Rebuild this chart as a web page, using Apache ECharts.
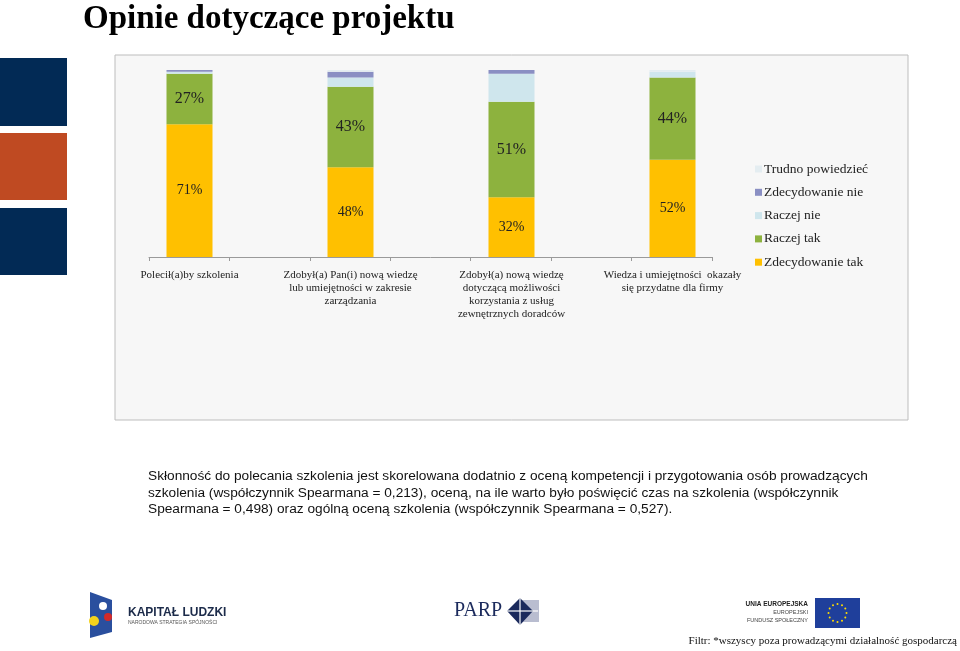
<!DOCTYPE html>
<html>
<head>
<meta charset="utf-8">
<script src="https://cdn.jsdelivr.net/npm/echarts@6/dist/echarts.min.js"></script>
<style>
html,body{margin:0;padding:0;background:#fff;}
#c{width:960px;height:651px;}
</style>
</head>
<body>
<div id="c"></div>
<script>
const categories = [
  'Polecił(a)by szkolenia',
  'Zdobył(a) Pan(i) nową wiedzę\nlub umiejętności w zakresie\nzarządzania',
  'Zdobył(a) nową wiedzę\ndotyczącą możliwości\nkorzystania z usług\nzewnętrznych doradców',
  'Wiedza i umiejętności  okazały\nsię przydatne dla firmy'
];
const zdecydowanieTak = [71, 48, 32, 52];
const raczejTak = [27, 43, 51, 44];
const raczejNie = [1, 5, 15, 3];
const zdecydowanieNie = [1, 3, 2, 0];
const trudnoPowiedziec = [0, 1, 0, 1];
const seriesNames = ['Zdecydowanie tak', 'Raczej tak', 'Raczej nie', 'Zdecydowanie nie', 'Trudno powiedzieć'];
const seriesColors = ['#ffc000', '#8db23e', '#cfe6ed', '#8a8fc3', '#e4edf1'];
const seriesValues = [zdecydowanieTak, raczejTak, raczejNie, zdecydowanieNie, trudnoPowiedziec];

const titleText = 'Opinie dotyczące projektu';
const bodyText = 'Skłonność do polecania szkolenia jest skorelowana dodatnio z oceną kompetencji i przygotowania osób prowadzących\nszkolenia (współczynnik Spearmana = 0,213), oceną, na ile warto było poświęcić czas na szkolenia (współczynnik\nSpearmana = 0,498) oraz ogólną oceną szkolenia (współczynnik Spearmana = 0,527).';
const filterText = 'Filtr: *wszyscy poza prowadzącymi działalność gospodarczą';

const chart = echarts.init(document.getElementById('c'), null, {renderer: 'canvas'});

const serif = '"Liberation Serif", "Times New Roman", serif';
const sans = '"Liberation Sans", Arial, sans-serif';

const series = seriesValues.map((vals, i) => ({
  name: seriesNames[i],
  type: 'bar',
  stack: 'all',
  xAxisIndex: 0,
  yAxisIndex: 0,
  barWidth: 46,
  itemStyle: {color: seriesColors[i]},
  data: vals,
  label: {
    show: i < 2,
    position: 'inside',
    formatter: '{c}%',
    fontFamily: serif,
    fontSize: i === 0 ? 14 : 16,
    color: '#222'
  }
}));

function starsCircle(cx, cy, r, n) {
  const arr = [];
  for (let k = 0; k < n; k++) {
    const a = k * 2 * Math.PI / n;
    arr.push({type: 'circle', shape: {cx: cx + r * Math.sin(a), cy: cy - r * Math.cos(a), r: 1}, style: {fill: '#ffdd00'}});
  }
  return arr;
}

const graphics = [
  {type: 'rect', shape: {x: 115, y: 55, width: 793, height: 365}, style: {fill: '#f7f7f7', stroke: '#bdbdbd', lineWidth: 1}, z: -10},
  {type: 'rect', shape: {x: 0, y: 58, width: 67, height: 68}, style: {fill: '#022a55'}},
  {type: 'rect', shape: {x: 0, y: 133, width: 67, height: 67}, style: {fill: '#bf4a22'}},
  {type: 'rect', shape: {x: 0, y: 208, width: 67, height: 67}, style: {fill: '#022a55'}},
  {type: 'text', x: 83, y: 19, style: {text: titleText, font: 'bold 33px ' + serif, fill: '#000', textVerticalAlign: 'middle'}},
  {type: 'text', x: 148, y: 468, style: {text: bodyText, font: '13.7px ' + sans, fill: '#111', lineHeight: 16.5}},
  {type: 'text', x: 957, y: 641, style: {text: filterText, font: '11px ' + serif, fill: '#111', textAlign: 'right', textVerticalAlign: 'middle'}},
  {type: 'polygon', shape: {points: [[90, 592], [112, 600], [112, 632], [90, 638]]}, style: {fill: '#2a4f9e'}},
  {type: 'circle', shape: {cx: 103, cy: 606, r: 4}, style: {fill: '#ffffff'}},
  {type: 'circle', shape: {cx: 108, cy: 617, r: 4}, style: {fill: '#d42a2a'}},
  {type: 'circle', shape: {cx: 94, cy: 621, r: 5}, style: {fill: '#f3d21c'}},
  {type: 'text', x: 128, y: 613, style: {text: 'KAPITAŁ LUDZKI', font: 'bold 12px ' + sans, fill: '#1c2b4a', textVerticalAlign: 'middle'}},
  {type: 'text', x: 128, y: 623, style: {text: 'NARODOWA STRATEGIA SPÓJNOŚCI', font: '5px ' + sans, fill: '#555', textVerticalAlign: 'middle'}},
  {type: 'text', x: 454, y: 611, style: {text: 'PARP', font: '20px ' + serif, fill: '#1b2a5c', textVerticalAlign: 'middle'}},
  {type: 'rect', shape: {x: 521, y: 600, width: 18, height: 22}, style: {fill: '#b9bdd0'}},
  {type: 'polygon', shape: {points: [[507, 611], [520, 598], [533, 611], [520, 625]]}, style: {fill: '#1b2a5c'}},
  {type: 'line', shape: {x1: 507, y1: 611, x2: 538, y2: 611}, style: {stroke: '#ffffff', lineWidth: 1.2}},
  {type: 'line', shape: {x1: 520, y1: 598, x2: 520, y2: 625}, style: {stroke: '#ffffff', lineWidth: 1.2}},
  {type: 'text', x: 808, y: 604, style: {text: 'UNIA EUROPEJSKA', font: 'bold 6.5px ' + sans, fill: '#222', textAlign: 'right', textVerticalAlign: 'middle'}},
  {type: 'text', x: 808, y: 612, style: {text: 'EUROPEJSKI', font: '5.5px ' + sans, fill: '#444', textAlign: 'right', textVerticalAlign: 'middle'}},
  {type: 'text', x: 808, y: 620, style: {text: 'FUNDUSZ SPOŁECZNY', font: '5.5px ' + sans, fill: '#444', textAlign: 'right', textVerticalAlign: 'middle'}},
  {type: 'rect', shape: {x: 815, y: 598, width: 45, height: 30}, style: {fill: '#1f3f9b'}}
].concat(starsCircle(837.5, 613, 9, 12));

chart.setOption({
  animation: false,
  backgroundColor: '#ffffff',
  graphic: graphics,
  legend: {
    orient: 'vertical',
    left: 755,
    top: 162,
    padding: 0,
    itemWidth: 7,
    itemHeight: 7,
    itemGap: 9.3,
    icon: 'rect',
    data: seriesNames.slice().reverse(),
    textStyle: {fontFamily: serif, fontSize: 13.5, color: '#222', lineHeight: 13, padding: [0, 0, 0, -3]}
  },
  grid: [
    {left: 109, width: 644, top: 70, height: 187},
    {left: 149, width: 563, top: 70, height: 187}
  ],
  xAxis: [
    {
      type: 'category', gridIndex: 0, data: categories,
      axisLine: {show: false}, axisTick: {show: false},
      axisLabel: {fontFamily: serif, fontSize: 11, color: '#222', lineHeight: 13, margin: 12, interval: 0}
    },
    {
      type: 'value', gridIndex: 1, min: 0, max: 7, interval: 1,
      axisLine: {show: true, lineStyle: {color: '#9a9a9a', width: 1}},
      axisTick: {show: true, length: 4, lineStyle: {color: '#9a9a9a'}},
      axisLabel: {show: false}, splitLine: {show: false}
    }
  ],
  yAxis: [
    {type: 'value', gridIndex: 0, min: 0, max: 100, show: false, splitLine: {show: false}},
    {type: 'value', gridIndex: 1, min: 0, max: 100, show: false, splitLine: {show: false}}
  ],
  series: series
});
</script>
</body>
</html>
